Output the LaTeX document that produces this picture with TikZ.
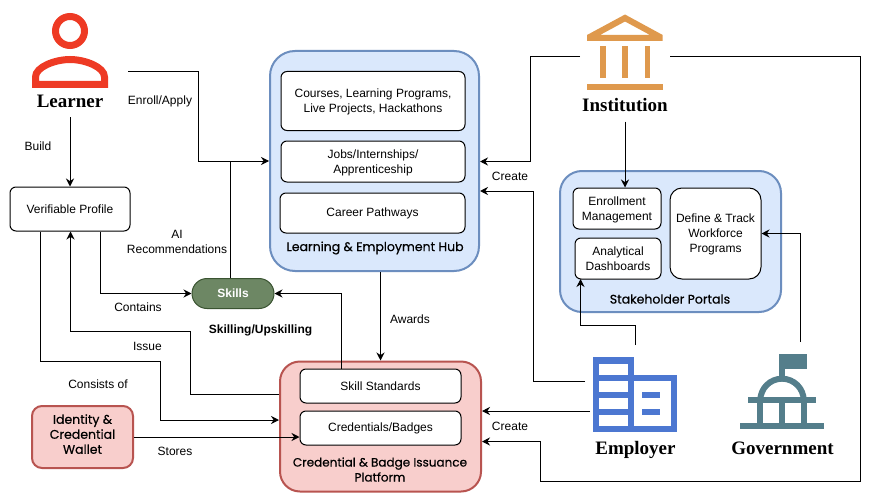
\documentclass[tikz,border=0pt]{standalone}
\usepackage{fontspec}
\setmainfont{Liberation Sans}
\newfontfamily\titlefont[FakeBold=0.5]{Poppins}
\newfontfamily\actorfont{Liberation Serif}
\usetikzlibrary{arrows.meta,positioning}
\definecolor{hubfill}{HTML}{DAE8FC}
\definecolor{hubline}{HTML}{6C8EBF}
\definecolor{badgefill}{HTML}{F8CECC}
\definecolor{badgeline}{HTML}{B85450}
\definecolor{skillfill}{HTML}{6D8764}
\definecolor{skillline}{HTML}{3A5431}
\definecolor{learnercol}{HTML}{EE3A24}
\definecolor{institutecol}{HTML}{DF994D}
\definecolor{employercol}{HTML}{4C77D1}
\definecolor{govcol}{HTML}{547E8B}
\tikzset{
    every node/.style={font=\fontsize{12}{15}\selectfont,align=center,inner sep=0pt},
    conn/.style={draw,line width=1pt,-{Stealth[length=8pt,width=8pt]}},
    plainconn/.style={draw,line width=1pt},
    whitebox/.style={draw,line width=1pt,fill=white,rounded corners=6},
    lowtext/.style={text depth=0.5pt},
    groupbox/.style={draw,line width=2pt,rounded corners=#1},
    grouplabel/.style={font=\titlefont\fontsize{12.5}{15}\selectfont},
    actor/.style={font=\actorfont\bfseries\fontsize{19}{22}\selectfont,text height=17,text depth=4,minimum height=32}
}
\begin{document}
\begin{tikzpicture}[x=1pt,y=-1pt]
    \useasboundingbox[fill=white] (0,0) rectangle (869,492);

    % groups
    \node[groupbox=25,fill=hubfill,draw=hubline,minimum width=209,minimum height=220] (hub) at (374.5,161) {};
    \node[groupbox=22,fill=hubfill,draw=hubline,minimum width=221,minimum height=141] (portals) at (670.5,241.5) {};
    \node[groupbox=20,fill=badgefill,draw=badgeline,minimum width=201,minimum height=130] (platform) at (380.5,426.5) {};
    \node[groupbox=10,fill=badgefill,draw=badgeline,minimum width=101,minimum height=62,grouplabel,text depth=6pt] (wallet) at (82.5,437) {Identity \&\\Credential\\Wallet};
    \node[draw=skillline,fill=skillfill,line width=1pt,rounded corners=15,minimum width=82,minimum height=30,text=white,font=\bfseries\fontsize{12}{15}\selectfont] (skills) at (233,293.5) {Skills};

    % boxes
    \node[whitebox,minimum width=120,minimum height=44] (profile) at (70,209) {Verifiable Profile};
    \node[whitebox,lowtext,minimum width=184,minimum height=59] (courses) at (373,101) {Courses, Learning Programs,\\Live Projects, Hackathons};
    \node[whitebox,lowtext,minimum width=184,minimum height=41] (jobs) at (373,161.5) {Jobs/Internships/\\Apprenticeship};
    \node[whitebox,minimum width=185,minimum height=40] (career) at (372.5,213) {Career Pathways};
    \node[whitebox,minimum width=161,minimum height=34] (standards) at (380.5,386) {Skill Standards};
    \node[whitebox,minimum width=161,minimum height=34] (badges) at (380.5,428) {Credentials/Badges};
    \node[whitebox,lowtext,minimum width=88,minimum height=41] (enrollment) at (617,208.5) {Enrollment\\Management};
    \node[whitebox,minimum width=86,minimum height=41] (dashboards) at (618,258.5) {Analytical\\Dashboards};
    \node[whitebox,lowtext,rounded corners=12,minimum width=91,minimum height=91] (workforce) at (715.5,233.5) {Define \& Track\\Workforce\\Programs};

    % group titles
    \node[grouplabel] (hubtitle) at (375,248) {Learning \& Employment Hub};
    \node[grouplabel] (portaltitle) at (670,299) {Stakeholder Portals};
    \node[grouplabel,font=\titlefont\fontsize{12}{15}\selectfont] (platformtitle) at (380,469.5) {Credential \& Badge Issuance\\Platform};
    \node[font=\bfseries\fontsize{12}{15}\selectfont] (upskill) at (260.5,330) {Skilling/Upskilling};

    % learner icon
    \draw[learnercol,line width=7pt] (70,31) circle (14.5);
    \draw[learnercol,line width=7pt,line join=miter] (35.5,84.5) -- (35.5,77) .. controls (35.5,67) and (55,59.5) .. (70,59.5) .. controls (85,59.5) and (104.5,67) .. (104.5,77) -- (104.5,84.5) -- cycle;

    % institution icon
    \fill[institutecol,even odd rule] (587,35) -- (625,14.5) -- (662.7,35) -- (662.7,41) -- (587,41) -- cycle (600,35) -- (650,35) -- (625,21.5) -- cycle;
    \foreach \colx in {600,622.3,644.7}
        \fill[institutecol] (\colx,46.3) rectangle +(5.5,32);
    \fill[institutecol] (587,84) rectangle (662.7,89.7);

    % employer icon
    \fill[employercol] (593.3,357.3) rectangle (633.7,432.3);
    \fill[employercol] (633.7,374.7) rectangle (676.7,432.3);
    \foreach \rowy in {363.7,380.7,397.7,415}
        \fill[white] (599.3,\rowy) rectangle +(28.7,11);
    \fill[white] (633.7,380.7) rectangle (670.7,426);
    \fill[employercol] (642.3,392) rectangle (659.7,397.7);
    \fill[employercol] (642.3,409) rectangle (659.7,415);

    % government icon
    \fill[govcol] (779,354.3) rectangle (806.7,369.3);
    \fill[govcol] (779,369.3) rectangle (785,377);
    \draw[govcol,line width=6pt] (760.3,400.4) arc (180:0:21.7pt);
    \fill[govcol] (747.7,397) rectangle (816,403);
    \foreach \colx in {757.3,779,800.7}
        \fill[govcol] (\colx,403) rectangle +(6,20.5);
    \fill[govcol] (740,423.3) rectangle (823.7,429.3);

    % actors
    \node[actor] (learner) at (70,101) {Learner};
    \node[actor] (institution) at (625,105.5) {Institution};
    \node[actor] (employer) at (635.5,448) {Employer};
    \node[actor] (government) at (782.5,448) {Government};

    % free ends next to the icons
    \coordinate (learnerout) at (128,72);
    \coordinate (institutionleft) at (580,56.5);
    \coordinate (institutionright) at (670,56.5);
    \coordinate (employerhub) at (585,381.5);
    \coordinate (employerplatform) at (590,411);
    \coordinate (employertop) at (635.7,345);
    \coordinate (govtop) at (800.5,342);

    % connectors
    \draw[conn] (learnerout) -- (198,72) -- (198,161) -- (hub.west);
    \draw[plainconn] ([xshift=-3]skills.north) -- (230,161);
    \draw[conn] (learner) -- (profile);
    \draw[conn] ([xshift=30]profile.south) -- (100,293.5) -- (skills.west);
    \draw[conn] ([yshift=32.5]platform.west) -- (190.7,394) -- (190.7,331) -- (70.5,331) -- ([xshift=0.5]profile.south);
    \draw[conn] ([xshift=-29.5]profile.south) -- (40.5,361) -- (160.5,361) -- (160.5,420) -- ([yshift=6.5]platform.west);
    \draw[conn] (wallet.east) -- ([yshift=-9]badges.west);
    \draw[conn] (hub.south -| platform.north) -- (platform.north);
    \draw[conn] ([xshift=-39.5]standards.north) -- (341,293.5) -- (skills.east);
    \draw[conn] (institutionleft) -- (530,56.5) -- (530,161.5) -- ([yshift=-0.5]hub.east);
    \draw[conn] (employerhub) -- (533,381.5) -- (533,191) -- ([yshift=-30]hub.east);
    \draw[conn] (employerplatform) -- ([yshift=15.5]platform.east);
    \draw[conn] (institutionright) -- (860.5,56.5) -- (860.5,481) -- (540.7,481) -- (540.7,441.5) -- ([yshift=-15]platform.east);
    \draw[conn] (institution.south) -- (enrollment.north -| institution.south);
    \draw[conn] (employertop) -- (635.7,325.5) -- (580.5,325.5) -- (580.5,279);
    \draw[conn] (govtop) -- (800.5,233.5) -- (workforce.east);

    % connector labels
    \node (enrolllabel) at (160,101) {Enroll/Apply};
    \node (buildlabel) at (38,146) {Build};
    \node (ailabel) at (177,241.5) {AI\\Recommendations};
    \node (containslabel) at (138,307) {Contains};
    \node (issuelabel) at (147.5,346) {Issue};
    \node (consistslabel) at (98,384) {Consists of};
    \node (storeslabel) at (175,451) {Stores};
    \node (awardslabel) at (410,319) {Awards};
    \node (createtop) at (510,176) {Create};
    \node (createbottom) at (510,426) {Create};
\end{tikzpicture}
\end{document}
